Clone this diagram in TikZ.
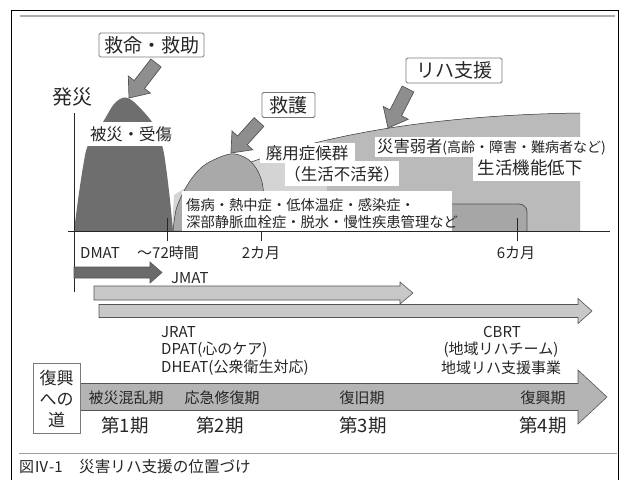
\documentclass[tikz,border=0pt]{standalone}
\usepackage{fontspec}
\setmainfont{Noto Sans CJK JP}
\usetikzlibrary{calc}
\definecolor{txt}{HTML}{262626}
\definecolor{mone}{HTML}{6E6E6E}
\definecolor{mtwo}{HTML}{A9A9A9}
\definecolor{regb}{HTML}{D4D4D4}
\definecolor{regc}{HTML}{BABABA}
\definecolor{regd}{HTML}{A6A6A6}
\definecolor{arrfill}{HTML}{8E8E8E}
\definecolor{arrline}{HTML}{555555}
\definecolor{barfill}{HTML}{C8C8C8}
\definecolor{roadfill}{HTML}{B4B4B4}
\definecolor{dmatfill}{HTML}{6A6A6A}
\definecolor{boxline}{HTML}{7A7A7A}
\newcommand\myfs[1]{\fontsize{#1}{#1}\selectfont}
% style, tail, tip, body half width, head half width, head length
\newcommand\fatarrow[6]{%
  \coordinate (fah) at ($(#3)!#6!(#2)$);
  \filldraw[#1] ($(#2)!#4!90:(#3)$) -- ($(fah)!#4!90:(#3)$) -- ($(fah)!#5!90:(#3)$) -- (#3)
    -- ($(fah)!#5!-90:(#3)$) -- ($(fah)!#4!-90:(#3)$) -- ($(#2)!#4!-90:(#3)$) -- cycle;}
\tikzset{
  lbl/.style={text=txt, inner sep=0pt},
  tagbox/.style={draw=boxline, fill=white, line width=0.8pt, rounded corners=1.5pt, inner sep=0pt, text=txt},
  slantarrow/.style={fill=arrfill, draw=arrline, line width=0.7pt, line join=miter},
  bararrow/.style={fill=barfill, draw=arrline, line width=0.6pt, line join=miter},
  dmatarrow/.style={fill=dmatfill, draw=arrline, line width=0.6pt, line join=miter},
  roadarrow/.style={fill=roadfill, draw=arrline, line width=0.6pt, line join=miter},
  axisline/.style={draw=txt, line width=0.9pt},
}
\begin{document}
\begin{tikzpicture}[x=1pt,y=-1pt]
\useasboundingbox (0,0) rectangle (629,480);
\fill[white] (0,0) rectangle (629,480);
% frame
\draw[black, line width=1pt] (11,480) -- (11,10) -- (618,10) -- (618,480);
\draw[gray!65, line width=1.5pt] (20,16) -- (615,16);
\draw[gray!75, line width=0.8pt] (19,453) -- (617,453);

% background regions
\fill[regb] (172,231) -- (174,195) -- (205,176) -- (243,165) .. controls (320,136) and (430,115) .. (580,113) -- (580,231) -- cycle;
\begin{scope}
  \clip (327,100) rectangle (581,232);
  \fill[regc] (172,231) -- (174,195) -- (205,176) -- (243,165) .. controls (320,136) and (430,115) .. (580,113) -- (580,231) -- cycle;
\end{scope}
\draw[line width=0.5pt, gray!40!black] (243,165) .. controls (320,136) and (430,115) .. (580,113);
% mountain 2
\filldraw[fill=mtwo, draw=gray!45!black, line width=0.5pt] plot[smooth, tension=0.55] coordinates {(173,231) (176,210) (182,195) (192,178) (206,164) (230,154) (246,158) (256,168) (262,182) (264,200) (265,231)} -- cycle;
% dark rounded region
\filldraw[fill=regd, draw=arrline, line width=0.8pt, rounded corners=8pt] (440,231) -- (440,204) -- (527,204) -- (527,231);
% mountain 1
\fill[mone] plot[smooth, tension=0.5] coordinates {(74,231) (78,200) (83,167) (88,145) (103,122) (114,104) (124,97.5) (134,102) (152,122) (162,145) (166,167) (170,200) (173,231)} -- cycle;

% white label backgrounds
\fill[white] (86,122) rectangle (177,146);
\fill[white] (260,143) rectangle (355,163);
\fill[white] (285,161) rectangle (399,186);
\fill[white] (375,137) rectangle (612,157);
\fill[white] (473,157) rectangle (590,181);
\fill[white] (182,191) rectangle (452,231);

% axes and ticks
\coordinate (yax0) at (74,113);
\coordinate (yax1) at (74,292);
\coordinate (xax0) at (68,231);
\coordinate (xax1) at (610,231);
\draw[axisline] (yax0) -- (yax1);
\draw[axisline] (xax0) -- (xax1);
\coordinate (t1a) at (167,218); \coordinate (t1b) at (167,241);
\coordinate (t2a) at (261,231); \coordinate (t2b) at (261,241);
\coordinate (t3a) at (517,218); \coordinate (t3b) at (517,241);
\draw[axisline, line width=0.8pt] (t1a) -- (t1b);
\draw[axisline, line width=0.8pt] (t2a) -- (t2b);
\draw[axisline, line width=0.8pt] (t3a) -- (t3b);

% top boxes and arrows
\node[tagbox, minimum width=105pt, minimum height=24pt, font=\myfs{19}] (kyumei) at (151.5,45) {救命・救助};
\node[tagbox, minimum width=53pt, minimum height=25pt, font=\myfs{19}] (kyugo) at (288.5,105) {救護};
\node[tagbox, minimum width=96pt, minimum height=25pt, font=\myfs{19}] (riha) at (454,70.5) {リハ支援};
\coordinate (a1t) at (156,63); \coordinate (a1p) at (129,98);
\fatarrow{slantarrow}{a1t}{a1p}{6.5pt}{14pt}{17pt}
\coordinate (a2t) at (259,122); \coordinate (a2p) at (231,153);
\fatarrow{slantarrow}{a2t}{a2p}{6.5pt}{14pt}{17pt}
\coordinate (a3t) at (408,89); \coordinate (a3p) at (388,128);
\fatarrow{slantarrow}{a3t}{a3p}{6.5pt}{14pt}{17pt}

% texts in chart
\node[lbl, font=\myfs{20}] (hassai) at (72,97) {発災};
\node[lbl, font=\myfs{16.4}] (hisai) at (131,134) {被災・受傷};
\node[lbl, font=\myfs{16.5}] (haiyo) at (307,153) {廃用症候群};
\node[lbl, font=\myfs{16.5}] (seikatsu) at (342,174) {（生活不活発）};
\node[lbl, anchor=west] (jakusha) at (377,147) {{\myfs{16.3}災害弱者}{\myfs{14}(高齢・障害・難病者など)}};
\node[lbl, font=\myfs{17.5}] (kino) at (530,168) {生活機能低下};
\node[lbl, anchor=west, font=\myfs{14.3}] (shobyo1) at (186,205) {傷病・熱中症・低体温症・感染症・};
\node[lbl, anchor=west, font=\myfs{14.3}] (shobyo2) at (186,222) {深部静脈血栓症・脱水・慢性疾患管理など};

% axis labels
\node[lbl, anchor=west, font=\myfs{15}] (dmat) at (80,253) {DMAT};
\node[lbl, anchor=west, font=\myfs{15}] (h72) at (137,253) {～72時間};
\node[lbl, font=\myfs{15}] (m2) at (261,253) {2カ月};
\node[lbl, font=\myfs{15}] (m6) at (516,253) {6カ月};

% team arrows
\coordinate (dmt) at (74,272.5); \coordinate (dmp) at (162,272.5);
\fatarrow{dmatarrow}{dmt}{dmp}{5.5pt}{10.5pt}{12pt}
\node[lbl, anchor=west, font=\myfs{15}] (jmat) at (171,278) {JMAT};
\coordinate (jmt) at (94,293); \coordinate (jmp) at (413,293);
\fatarrow{bararrow}{jmt}{jmp}{7pt}{11pt}{13pt}
\coordinate (jrt) at (99,311); \coordinate (jrp) at (592,311);
\fatarrow{bararrow}{jrt}{jrp}{6.5pt}{12.5pt}{14pt}
\node[lbl, anchor=west, font=\myfs{15}] (jrat) at (161,332) {JRAT};
\node[lbl, anchor=west, font=\myfs{15}] (dpat) at (161,350) {DPAT(心のケア)};
\node[lbl, anchor=west, font=\myfs{15}] (dheat) at (161,368) {DHEAT(公衆衛生対応)};
\node[lbl, font=\myfs{15}] (cbrt) at (502,332) {CBRT};
\node[lbl, font=\myfs{15}] (chiiki) at (501,350) {(地域リハチーム)};
\node[lbl, font=\myfs{15}] (jigyo) at (501,368) {地域リハ支援事業};

% road to recovery
\coordinate (rdt) at (80,397); \coordinate (rdp) at (607,397);
\fatarrow{roadarrow}{rdt}{rdp}{13.5pt}{27pt}{29pt}
\node[draw=boxline, fill=white, line width=0.8pt, minimum width=47pt, minimum height=70pt, inner sep=0pt] (michi) at (56.5,398) {};
\node[lbl, font=\myfs{17}] (michi1) at (56.5,378) {復興};
\node[lbl, font=\myfs{17}] (michi2) at (56.5,400) {への};
\node[lbl, font=\myfs{17}] (michi3) at (56.5,420) {道};
\node[lbl, font=\myfs{15}] (p1) at (126,398) {被災混乱期};
\node[lbl, font=\myfs{15}] (p2) at (222,398) {応急修復期};
\node[lbl, font=\myfs{15}] (p3) at (362,398) {復旧期};
\node[lbl, font=\myfs{15}] (p4) at (543,398) {復興期};
\node[lbl, font=\myfs{18.5}] (k1) at (125,425) {第1期};
\node[lbl, font=\myfs{18.5}] (k2) at (220,425) {第2期};
\node[lbl, font=\myfs{18.5}] (k3) at (363,425) {第3期};
\node[lbl, font=\myfs{18.5}] (k4) at (543,425) {第4期};

% caption
\node[lbl, anchor=west, font=\myfs{15}] (fig) at (19,467) {図Ⅳ-1};
\node[lbl, anchor=west, font=\myfs{15.6}] (cap) at (79,467) {災害リハ支援の位置づけ};
\end{tikzpicture}
\end{document}
